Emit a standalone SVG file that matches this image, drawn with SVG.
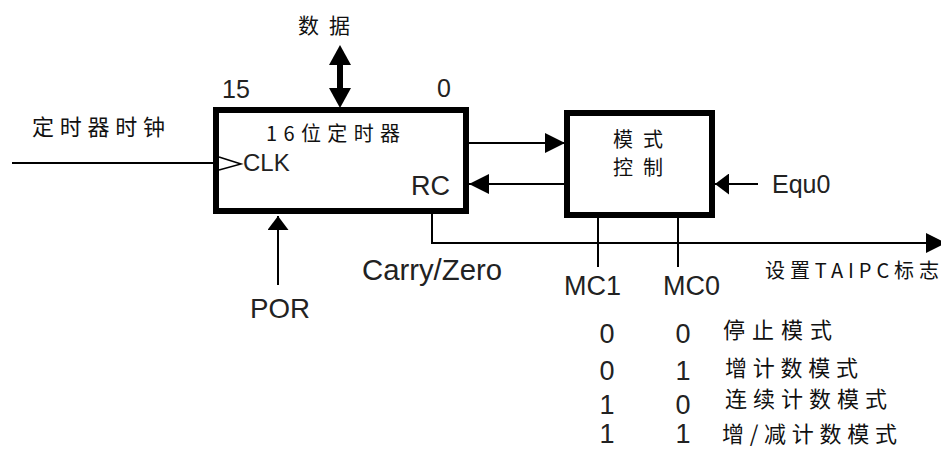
<svg xmlns="http://www.w3.org/2000/svg" width="941" height="449" viewBox="0 0 941 449">
<style>
.box{fill:#fff;stroke:#000;stroke-width:6}
.ln{fill:none;stroke:#000;stroke-width:2}
.lat{font-family:"Liberation Sans",Arial,sans-serif;fill:#222}
.cjk{font-family:"Noto Sans CJK SC",sans-serif;fill:#111}
</style>
<defs>
<marker id="a" viewBox="0 0 20 20" refX="20" refY="10" markerWidth="20" markerHeight="20" markerUnits="userSpaceOnUse" orient="auto-start-reverse">
<path d="M0,0 L20,10 L0,20 z" fill="#000"/>
</marker>
<marker id="s" viewBox="0 0 14 21" refX="14" refY="10.5" markerWidth="14" markerHeight="21" markerUnits="userSpaceOnUse" orient="auto">
<path d="M0,0 L14,10.5 L0,21 z" fill="#000"/>
</marker>
</defs>

<g id="connectors">
<line class="ln" x1="12" y1="163" x2="216" y2="163"/>
<line x1="340" y1="63" x2="340" y2="90" stroke="#000" stroke-width="6"/>
<path d="M329,65 L340,45 L351,65 z" fill="#000"/>
<path d="M329,88 L340,108 L351,88 z" fill="#000"/>
<line class="ln" x1="469" y1="143" x2="565" y2="143" marker-end="url(#a)"/>
<line class="ln" x1="565" y1="184" x2="469" y2="184" marker-end="url(#a)"/>
<line class="ln" x1="758" y1="184" x2="715" y2="184" marker-end="url(#s)"/>
<line class="ln" x1="278" y1="285" x2="278" y2="216" marker-end="url(#s)"/>
<polyline class="ln" points="432,213 432,243 946,243" marker-end="url(#a)"/>
<line class="ln" x1="598" y1="216" x2="598" y2="267"/>
<line class="ln" x1="678" y1="216" x2="678" y2="267"/>
</g>

<g id="timer">
<rect class="box" x="216" y="110" width="250" height="101"/>
<path d="M219,157 L241,164 L219,170" fill="#fff" stroke="#000" stroke-width="1.5"/>
<text class="cjk" x="266" y="141" font-size="20" textLength="134" lengthAdjust="spacing">16位定时器</text>
<text class="lat" x="243" y="171" font-size="24">CLK</text>
<text class="lat" x="411" y="195" font-size="27">RC</text>
</g>

<g id="mode">
<rect class="box" x="567" y="113" width="145" height="102"/>
<text class="cjk" x="613" y="147" font-size="20" textLength="50" lengthAdjust="spacing">模式</text>
<text class="cjk" x="613" y="175" font-size="20" textLength="50" lengthAdjust="spacing">控制</text>
</g>

<g id="labels">
<text class="cjk" x="298" y="33" font-size="21" textLength="52" lengthAdjust="spacing">数据</text>
<text class="lat" x="222" y="98" font-size="25">15</text>
<text class="lat" x="437" y="97" font-size="25">0</text>
<text class="cjk" x="32" y="135" font-size="22" textLength="133" lengthAdjust="spacing">定时器时钟</text>
<text class="lat" x="772" y="193" font-size="25">Equ0</text>
<text class="lat" x="362" y="280" font-size="29" textLength="140" lengthAdjust="spacingAndGlyphs">Carry/Zero</text>
<text class="lat" x="250" y="318" font-size="28" textLength="60" lengthAdjust="spacingAndGlyphs">POR</text>
<text class="lat" x="564" y="295" font-size="27">MC1</text>
<text class="lat" x="663" y="295" font-size="27">MC0</text>
<text class="cjk" x="765" y="278" font-size="20" textLength="174" lengthAdjust="spacing">设置TAIPC标志</text>
</g>

<g id="table">
<g class="lat" font-size="27" text-anchor="middle">
<text x="607" y="343">0</text><text x="683" y="343">0</text>
<text x="607" y="380">0</text><text x="683" y="380">1</text>
<text x="607" y="414">1</text><text x="683" y="414">0</text>
<text x="607" y="443">1</text><text x="683" y="443">1</text>
</g>
<text class="cjk" x="723" y="338" font-size="22" textLength="109" lengthAdjust="spacing">停止模式</text>
<text class="cjk" x="725" y="376" font-size="22" textLength="133" lengthAdjust="spacing">增计数模式</text>
<text class="cjk" x="725" y="407" font-size="22" textLength="162" lengthAdjust="spacing">连续计数模式</text>
<text class="cjk" x="722" y="442" font-size="22" textLength="175" lengthAdjust="spacing">增/减计数模式</text>
</g>
</svg>
